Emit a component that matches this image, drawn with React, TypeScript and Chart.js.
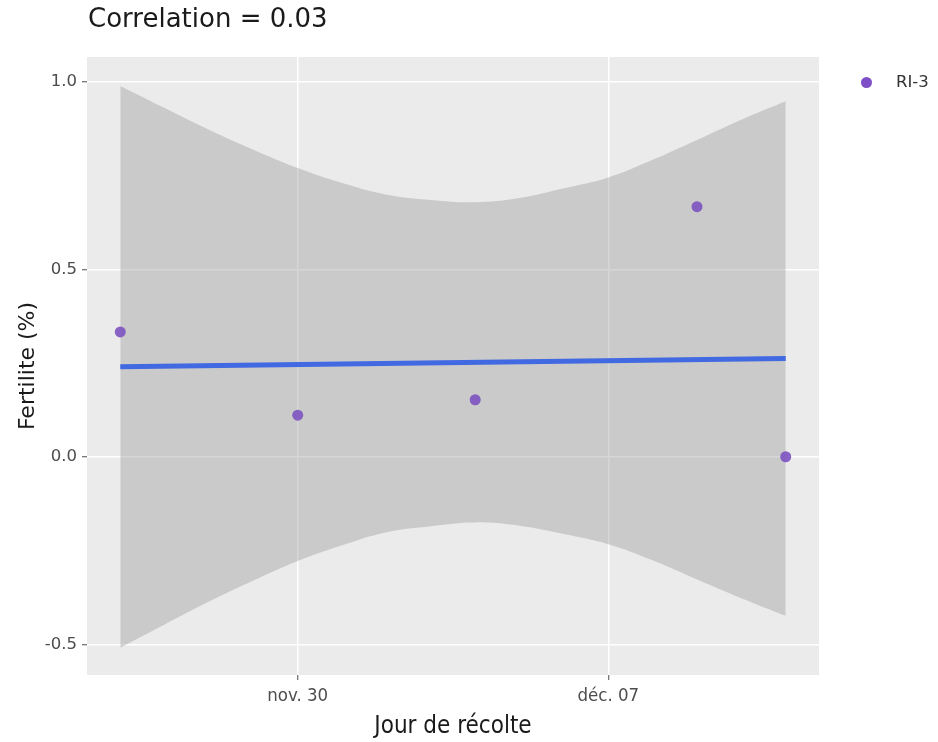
import React, { useEffect, useRef } from "react";
import { Chart, registerables } from "chart.js";

Chart.register(...registerables);

// ---- Data ----
const originDate = "2020-11-26";
const pointDates = ["2020-11-26", "2020-11-30", "2020-12-04", "2020-12-09", "2020-12-11"];
const fertility = [0.333, 0.111, 0.152, 0.667, 0.0];

const fitDates = ["2020-11-26", "2020-12-11"];
const fitValues = [0.24, 0.262];

const bandDates = [
  "2020-11-26", "2020-11-27", "2020-11-28", "2020-11-29", "2020-11-30", "2020-12-01",
  "2020-12-02", "2020-12-03", "2020-12-04", "2020-12-05", "2020-12-06", "2020-12-07",
  "2020-12-08", "2020-12-09", "2020-12-10", "2020-12-11",
];
const bandUpper = [0.989, 0.93, 0.872, 0.819, 0.77, 0.73, 0.699, 0.685, 0.679, 0.69, 0.716, 0.745, 0.792, 0.845, 0.899, 0.948];
const bandLower = [-0.509, -0.447, -0.386, -0.33, -0.278, -0.236, -0.201, -0.185, -0.175, -0.184, -0.206, -0.233, -0.276, -0.327, -0.377, -0.424];

const xTickDates = ["2020-11-30", "2020-12-07"];
const xTickLabels = ["nov. 30", "déc. 07"];
const yTicks = [-0.5, 0, 0.5, 1.0];

const seriesName = "RI-3";
const titleText = "Correlation = 0.03";
const xTitle = "Jour de récolte";
const yTitle = "Fertilite (%)";

const dayIndex = (d: string) => Math.round((Date.parse(d) - Date.parse(originDate)) / 86400000);

const POINT_COLOR = "rgba(122, 78, 190, 0.88)";
const LEGEND_COLOR = "#7E4FC6";

export default function App() {
  const ref = useRef<HTMLCanvasElement | null>(null);

  useEffect(() => {
    document.body.style.margin = "0";
    const canvas = ref.current!;
    const ctx = canvas.getContext("2d")!;

    const bgPlugin = {
      id: "panelBg",
      beforeDraw(chart: any) {
        const { ctx, chartArea } = chart;
        ctx.save();
        ctx.fillStyle = "#FFFFFF";
        ctx.fillRect(0, 0, chart.width, chart.height);
        ctx.fillStyle = "#EBEBEB";
        ctx.fillRect(chartArea.left, chartArea.top, chartArea.right - chartArea.left, chartArea.bottom - chartArea.top);
        ctx.restore();
      },
      afterDraw(chart: any) {
        const { ctx, chartArea } = chart;
        ctx.save();
        // Title
        ctx.fillStyle = "#1a1a1a";
        ctx.font = "26px 'DejaVu Sans'";
        ctx.textAlign = "left";
        ctx.textBaseline = "alphabetic";
        ctx.fillText(titleText, chartArea.left + 1, 27);
        // Legend
        ctx.beginPath();
        ctx.arc(chartArea.right + 47.5, 82.5, 5.5, 0, Math.PI * 2);
        ctx.fillStyle = LEGEND_COLOR;
        ctx.fill();
        ctx.fillStyle = "#333333";
        ctx.font = "16.5px 'DejaVu Sans'";
        ctx.textBaseline = "middle";
        ctx.fillText(seriesName, chartArea.right + 77, 83);
        ctx.restore();
      },
    };

    const chart = new Chart(ctx, {
      type: "line",
      data: {
        datasets: [
          {
            label: seriesName,
            data: pointDates.map((d, i) => ({ x: dayIndex(d), y: fertility[i] })),
            showLine: false,
            pointRadius: 5.5,
            pointBackgroundColor: POINT_COLOR,
            pointBorderWidth: 0,
            borderColor: POINT_COLOR,
            order: 0,
          },
          {
            label: "fit",
            data: fitDates.map((d, i) => ({ x: dayIndex(d), y: fitValues[i] })),
            borderColor: "#4169E1",
            borderWidth: 5,
            pointRadius: 0,
            fill: false,
            order: 1,
          },
          {
            label: "upper",
            data: bandDates.map((d, i) => ({ x: dayIndex(d), y: bandUpper[i] })),
            borderWidth: 0,
            borderColor: "rgba(0,0,0,0)",
            pointRadius: 0,
            tension: 0.4,
            fill: "+1",
            backgroundColor: "rgba(153,153,153,0.4)",
            order: 2,
          },
          {
            label: "lower",
            data: bandDates.map((d, i) => ({ x: dayIndex(d), y: bandLower[i] })),
            borderWidth: 0,
            borderColor: "rgba(0,0,0,0)",
            pointRadius: 0,
            tension: 0.4,
            fill: false,
            order: 3,
          },
        ],
      },
      options: {
        responsive: false,
        animation: false,
        devicePixelRatio: 1,
        layout: { padding: { top: 57, right: 119, bottom: 0, left: 0 } },
        plugins: {
          legend: { display: false },
          title: { display: false },
          tooltip: { enabled: false },
        },
        scales: {
          x: {
            type: "linear",
            min: -0.75,
            max: 15.75,
            afterFit: (s: any) => {
              s.height = 67;
            },
            afterBuildTicks: (s: any) => {
              s.ticks = xTickDates.map((d) => ({ value: dayIndex(d) }));
            },
            ticks: {
              autoSkip: false,
              maxRotation: 0,
              padding: 5,
              color: "#4D4D4D",
              font: { family: "'DejaVu Sans Condensed', 'DejaVu Sans'", size: 18.5 },
              callback: (v: any) => {
                const i = xTickDates.findIndex((d) => dayIndex(d) === v);
                return i >= 0 ? xTickLabels[i] : "";
              },
            },
            grid: { color: "#FFFFFF", lineWidth: 1.5, tickColor: "#4D4D4D", tickLength: 5, tickWidth: 1 },
            border: { display: false },
            title: {
              display: true,
              text: xTitle,
              color: "#1a1a1a",
              font: { family: "'DejaVu Sans Condensed', 'DejaVu Sans'", size: 24 },
              padding: { top: 0, bottom: 1 },
            },
          },
          y: {
            type: "linear",
            min: -0.582,
            max: 1.066,
            afterFit: (s: any) => {
              s.width = 87;
            },
            afterBuildTicks: (s: any) => {
              s.ticks = yTicks.map((v) => ({ value: v }));
            },
            ticks: {
              padding: 5,
              color: "#4D4D4D",
              font: { family: "'DejaVu Sans'", size: 16.5 },
              callback: (v: any) => Number(v).toFixed(1),
            },
            grid: { color: "#FFFFFF", lineWidth: 1.5, tickColor: "#4D4D4D", tickLength: 5, tickWidth: 1 },
            border: { display: false },
            title: {
              display: true,
              text: yTitle,
              color: "#1a1a1a",
              font: { family: "'DejaVu Sans'", size: 22 },
              padding: { top: 15, bottom: 0 },
            },
          },
        },
      },
      plugins: [bgPlugin],
    } as any);

    return () => chart.destroy();
  }, []);

  return (
    <div style={{ position: "absolute", left: 0, top: 0, width: 938, height: 742 }}>
      <canvas ref={ref} width={938} height={742} style={{ width: 938, height: 742, display: "block" }} />
    </div>
  );
}
